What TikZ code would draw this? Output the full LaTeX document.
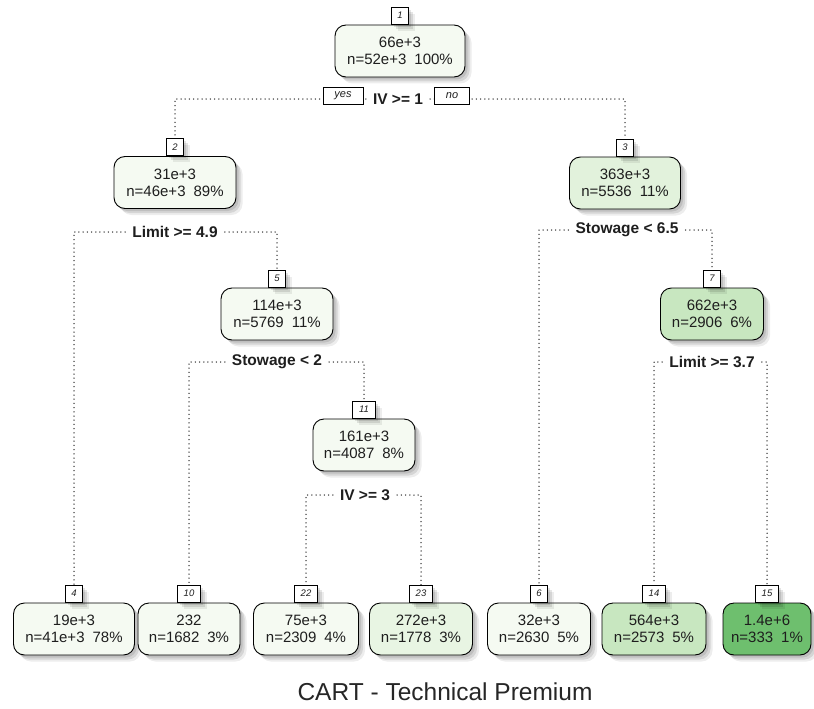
\documentclass[tikz,border=0pt]{standalone}
\usepackage{fontspec}
\setmainfont{Liberation Sans}
\usetikzlibrary{shadows}
\pgfdeclarelayer{background}
\pgfsetlayers{background,main}

% fill shades for the fitted values (light to dark green)
\definecolor{gA}{HTML}{F5FAF2}
\definecolor{gB}{HTML}{E8F5E3}
\definecolor{gC}{HTML}{E2F2DC}
\definecolor{gD}{HTML}{C8E7C0}
\definecolor{gE}{HTML}{6EBF6E}
\definecolor{txt}{HTML}{1E1E1E}

\newcommand\nodefont{\fontsize{15}{17}\selectfont}
\newcommand\splitfont{\fontsize{15.5}{17}\selectfont\bfseries}
\newcommand\numfont{\fontsize{9.5}{10}\selectfont\itshape}
\newcommand\yesnofont{\fontsize{11}{12}\selectfont\itshape}
\newcommand\gap{\hspace{8pt}}

\tikzset{
  softshadow/.style={
      drop shadow={shadow xshift=2.5pt, shadow yshift=-2.5pt, fill=black, opacity=0.10},
      drop shadow={shadow xshift=4.5pt, shadow yshift=-4.5pt, fill=black, opacity=0.10},
      drop shadow={shadow xshift=6.5pt, shadow yshift=-6.5pt, fill=black, opacity=0.07}},
  treebox/.style={draw=black, line width=0.9pt, rounded corners=11pt,
      minimum width=#1, minimum height=52pt, inner sep=0pt, align=center,
      font=\nodefont, text=txt, softshadow},
  numbox/.style={draw=black, line width=0.9pt, fill=white, anchor=south,
      minimum width=17pt, minimum height=17pt, inner sep=1pt,
      font=\numfont, text=txt, softshadow},
  splitlabel/.style={font=\splitfont, text=txt, inner xsep=7pt, inner ysep=2pt},
  yesno/.style={draw=black, line width=0.9pt, fill=white, minimum height=17pt,
      inner sep=1pt, font=\yesnofont, text=txt},
  conn/.style={draw=black!80, line width=1.5pt, dash pattern=on 0pt off 4.2pt,
      line cap=round}
}

\begin{document}
\begin{tikzpicture}[x=1pt, y=-1pt]
\useasboundingbox (0,0) rectangle (814,709);

% ---- inner nodes ----
\node[treebox=130pt, fill=gA] (n1) at (400,51) {66e+3\\n=52e+3\gap100\%};
\node[numbox] (n1num) at (n1.north) {1};

\node[treebox=122pt, fill=gA] (n2) at (175,182.5) {31e+3\\n=46e+3\gap89\%};
\node[numbox] (n2num) at (n2.north) {2};

\node[treebox=111pt, fill=gC] (n3) at (625,183) {363e+3\\n=5536\gap11\%};
\node[numbox] (n3num) at (n3.north) {3};

\node[treebox=112pt, fill=gA] (n5) at (277,314) {114e+3\\n=5769\gap11\%};
\node[numbox] (n5num) at (n5.north) {5};

\node[treebox=103pt, fill=gD] (n7) at (712,314) {662e+3\\n=2906\gap6\%};
\node[numbox] (n7num) at (n7.north) {7};

\node[treebox=102pt, fill=gA] (n11) at (364,445) {161e+3\\n=4087\gap8\%};
\node[numbox, minimum width=23pt] (n11num) at (n11.north) {11};

% ---- leaves ----
\node[treebox=121pt, fill=gA] (n4) at (74,629) {19e+3\\n=41e+3\gap78\%};
\node[numbox] (n4num) at (n4.north) {4};

\node[treebox=102pt, fill=gA] (n10) at (189,629) {232\\n=1682\gap3\%};
\node[numbox, minimum width=23pt] (n10num) at (n10.north) {10};

\node[treebox=105pt, fill=gA] (n22) at (306,629) {75e+3\\n=2309\gap4\%};
\node[numbox, minimum width=23pt] (n22num) at (n22.north) {22};

\node[treebox=103pt, fill=gB] (n23) at (421,629) {272e+3\\n=1778\gap3\%};
\node[numbox, minimum width=23pt] (n23num) at (n23.north) {23};

\node[treebox=103pt, fill=gA] (n6) at (539,629) {32e+3\\n=2630\gap5\%};
\node[numbox] (n6num) at (n6.north) {6};

\node[treebox=104pt, fill=gD] (n14) at (654,629) {564e+3\\n=2573\gap5\%};
\node[numbox, minimum width=23pt] (n14num) at (n14.north) {14};

\node[treebox=88pt, fill=gE] (n15) at (767,629) {1.4e+6\\n=333\gap1\%};
\node[numbox, minimum width=23pt] (n15num) at (n15.north) {15};

% ---- split labels ----
\node[splitlabel] (s1) at (398,99) {IV >= 1};
\node[splitlabel] (s2) at (175,232) {Limit >= 4.9};
\node[splitlabel] (s3) at (627,230) {Stowage < 6.5};
\node[splitlabel] (s5) at (277,362) {Stowage < 2};
\node[splitlabel] (s7) at (712,362) {Limit >= 3.7};
\node[splitlabel] (s11) at (365,495) {IV >= 3};

\node[yesno, minimum width=40pt] (yes) at (343,96) {yes};
\node[yesno, minimum width=35pt] (no) at (452,96) {no};

% ---- dotted branches ----
\begin{pgfonlayer}{background}
\draw[conn] (s1.west) -| (n2num.north);
\draw[conn] (s1.east) -| (n3num.north);
\draw[conn] (s2.west) -| (n4num.north);
\draw[conn] (s2.east) -| (n5num.north);
\draw[conn] (s3.west) -| (n6num.north);
\draw[conn] (s3.east) -| (n7num.north);
\draw[conn] (s5.west) -| (n10num.north);
\draw[conn] (s5.east) -| (n11num.north);
\draw[conn] (s7.west) -| (n14num.north);
\draw[conn] (s7.east) -| (n15num.north);
\draw[conn] (s11.west) -| (n22num.north);
\draw[conn] (s11.east) -| (n23num.north);
\end{pgfonlayer}

% ---- title ----
\node[font=\fontsize{24.5}{28}\selectfont, text=black!85] (title) at (445,692)
  {CART - Technical Premium};
\end{tikzpicture}
\end{document}
